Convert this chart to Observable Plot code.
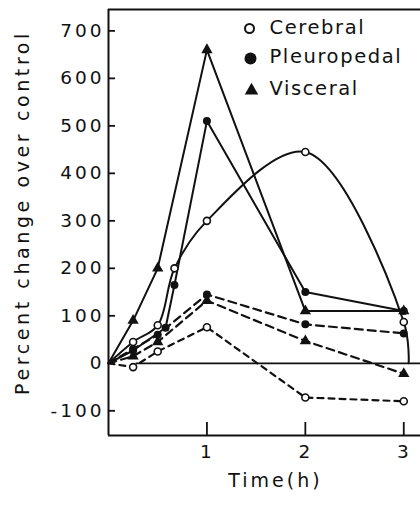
<!DOCTYPE html>
<html>
<head>
<meta charset="utf-8">
<script src="https://cdn.jsdelivr.net/npm/d3@7"></script>
<script src="https://cdn.jsdelivr.net/npm/@observablehq/plot@0.6"></script>
<style>
  html, body { margin: 0; padding: 0; background: #fff; }
  #chart svg text { fill: #111; }
  g[aria-label="y-axis tick label"] text { letter-spacing: 3px; }
  g[aria-label="x-axis tick label"] text { letter-spacing: 2px; }
</style>
</head>
<body>
<div id="chart"></div>
<script>
// ---- data ----
const tissues = ["Cerebral", "Pleuropedal", "Visceral"];
const xTicks = [1, 2, 3];
const yTicks = [-100, 0, 100, 200, 300, 400, 500, 600, 700];
const xDomain = [0, 3.17];
const yDomain = [-152, 745];

// solid lines
const cerebralSolidT = [0, 0.25, 0.5, 0.67, 1, 2, 3];
const cerebralSolidV = [0, 45, 80, 200, 300, 445, 87];
const cerebralSolidTailT = [3.05];
const cerebralSolidTailV = [0];
const pleuroSolidT = [0, 0.25, 0.58, 0.67, 1, 2, 3];
const pleuroSolidV = [0, 27, 75, 165, 510, 150, 110];
const visceralSolidT = [0, 0.25, 0.5, 1, 2, 3];
const visceralSolidV = [0, 90, 200, 660, 110, 110];

// dashed lines
const cerebralDashT = [0, 0.25, 0.5, 1, 2, 3];
const cerebralDashV = [0, -8, 25, 76, -72, -80];
const pleuroDashT = [0, 0.25, 0.5, 1, 2, 3];
const pleuroDashV = [0, 30, 60, 145, 82, 63];
const visceralDashT = [0, 0.25, 0.5, 1, 2, 3];
const visceralDashV = [0, 15, 45, 132, 47, -22];

const zeroLine = [{t1: 0.28, t2: 3.17, v: 0}];

const yLabel = "Percent change over control";
const xLabel = "Time(h)";

// ---- build tables ----
const rows = (tissue, style, T, V) => T.map((t, i) => ({tissue, style, key: tissue + style, t, v: V[i]}));
const cerebralSolid = rows("Cerebral", "solid", cerebralSolidT, cerebralSolidV);
const cerebralSolidLine = cerebralSolid.concat(rows("Cerebral", "solid", cerebralSolidTailT, cerebralSolidTailV));
const pleuroSolid = rows("Pleuropedal", "solid", pleuroSolidT, pleuroSolidV);
const visceralSolid = rows("Visceral", "solid", visceralSolidT, visceralSolidV);
const cerebralDash = rows("Cerebral", "dash", cerebralDashT, cerebralDashV);
const pleuroDash = rows("Pleuropedal", "dash", pleuroDashT, pleuroDashV);
const visceralDash = rows("Visceral", "dash", visceralDashT, visceralDashV);

const markers = d => d.filter(r => r.t > 0);
const cerebralPts = markers(cerebralSolid.concat(cerebralDash));
const pleuroPts = markers(pleuroSolid.concat(pleuroDash));
const visceralPts = markers(visceralSolid.concat(visceralDash));

const fmt = d => d < 0 ? "-" + Math.abs(d) : String(d);
const ink = "#111";
const lw = 2;

// legend layout (pixel offsets from the frame's top-left)
const legendRowDy = [18, 47, 79];
const legendMarks = [
  Plot.dot([0], {frameAnchor: "top-left", dx: 141, dy: legendRowDy[0] + 1, r: 4.5, fill: "#fff", stroke: ink, strokeWidth: 2}),
  Plot.dot([0], {frameAnchor: "top-left", dx: 142, dy: legendRowDy[1] + 2, r: 6, fill: ink}),
  Plot.dot([0], {frameAnchor: "top-left", dx: 143, dy: legendRowDy[2] + 2, r: 5, symbol: "triangle", fill: ink}),
  ...tissues.map((name, i) => Plot.text([name], {
    frameAnchor: "top-left", dx: 161, dy: legendRowDy[i], text: d => d,
    textAnchor: "start", lineAnchor: "middle", fontSize: 19.5
  }))
];

const chart = Plot.plot({
  width: 420,
  height: 505,
  marginLeft: 108,
  marginRight: 0,
  marginTop: 9,
  marginBottom: 70,
  x: {domain: xDomain},
  y: {domain: yDomain},
  style: {fontFamily: "'DejaVu Sans', sans-serif", background: "#fff", color: ink},
  marks: [
    // frame (left, top, bottom)
    Plot.ruleX([xDomain[0]], {stroke: ink, strokeWidth: lw}),
    Plot.ruleY(yDomain, {stroke: ink, strokeWidth: lw}),
    // inward ticks
    Plot.axisY(yTicks, {tickSize: 7, dx: 7, tickFormat: () => "", label: null, strokeWidth: 1.8}),
    Plot.axisY(yTicks, {tickSize: 0, tickPadding: 4, label: null, fontSize: 18.5, tickFormat: fmt}),
    Plot.axisX(xTicks, {tickSize: 13, dy: -13, tickFormat: () => "", label: null, strokeWidth: 1.8}),
    Plot.axisX(xTicks, {tickSize: 0, tickPadding: 9, label: null, fontSize: 18.5}),
    // zero line
    Plot.ruleY(zeroLine, {y: "v", x1: "t1", x2: "t2", stroke: ink, strokeWidth: 1.8}),
    // solid lines
    Plot.line(cerebralSolidLine, {x: "t", y: "v", stroke: ink, strokeWidth: lw, curve: "catmull-rom"}),
    Plot.line(pleuroSolid, {x: "t", y: "v", stroke: ink, strokeWidth: lw}),
    Plot.line(visceralSolid, {x: "t", y: "v", stroke: ink, strokeWidth: lw}),
    // dashed lines
    Plot.line(cerebralDash, {x: "t", y: "v", stroke: ink, strokeWidth: 2.2, strokeDasharray: "6,5"}),
    Plot.line(pleuroDash, {x: "t", y: "v", stroke: ink, strokeWidth: 2.2, strokeDasharray: "8,5"}),
    Plot.line(visceralDash, {x: "t", y: "v", stroke: ink, strokeWidth: 2.2, strokeDasharray: "8,5"}),
    // markers
    Plot.dot(cerebralPts, {x: "t", y: "v", r: 3.5, fill: "#fff", stroke: ink, strokeWidth: 1.6}),
    Plot.dot(pleuroPts, {x: "t", y: "v", r: 4, fill: ink}),
    Plot.dot(visceralPts, {x: "t", y: "v", r: 4.2, symbol: "triangle", fill: ink}),
    // titles
    Plot.text([yLabel], {frameAnchor: "left", dx: -86, dy: -10, rotate: -90, text: d => d,
      textAnchor: "middle", lineAnchor: "middle", fontSize: 19}),
    Plot.text([xLabel], {frameAnchor: "bottom", dx: 11, dy: 45, text: d => d,
      textAnchor: "middle", lineAnchor: "middle", fontSize: 19}),
    ...legendMarks
  ]
});

// letter spacing to mimic the wide lettering of the original
const spacing = new Map([[yLabel, "3.6px"], [xLabel, "3px"]]);
tissues.forEach(n => spacing.set(n, "1.6px"));
d3.select(chart).selectAll("text").each(function () {
  const s = spacing.get(this.textContent);
  if (s) this.style.letterSpacing = s;
});
document.getElementById("chart").appendChild(chart);
</script>
</body>
</html>
